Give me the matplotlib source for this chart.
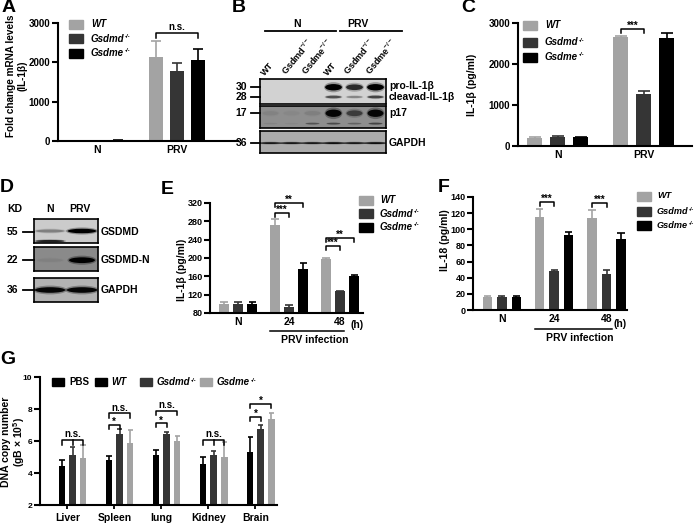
import matplotlib
matplotlib.use('Agg')
import matplotlib.pyplot as plt
from matplotlib.patches import Rectangle, Ellipse
from matplotlib.lines import Line2D
import numpy as np

plt.rcParams['font.family'] = ['Liberation Sans', 'DejaVu Sans']
plt.rcParams['font.weight'] = 'bold'
plt.rcParams['axes.labelweight'] = 'bold'
plt.rcParams['mathtext.fontset'] = 'custom'
plt.rcParams['mathtext.rm'] = 'Liberation Sans:bold'
plt.rcParams['mathtext.it'] = 'Liberation Sans:bold:italic'
plt.rcParams['mathtext.bf'] = 'Liberation Sans:bold'

# ---- data ----
geno_base = ['WT', 'Gsdmd', 'Gsdme']
geno_sup = ['', '-/-', '-/-']
groups_ac = ['N', 'PRV']
groups_ef = ['N', '24', '48']

# A: fold change mRNA IL-1b
a_wt = [5, 2140]
a_wt_err = [0, 400]
a_gsdmd = [5, 1790]
a_gsdmd_err = [0, 200]
a_gsdme = [15, 2070]
a_gsdme_err = [0, 280]

# C: IL-1b pg/ml
c_wt = [200, 2655]
c_wt_err = [20, 20]
c_gsdmd = [220, 1260]
c_gsdmd_err = [20, 85]
c_gsdme = [210, 2645]
c_gsdme_err = [20, 105]

# E: IL-1b pg/ml time course
e_wt = [99, 271, 198]
e_wt_err = [5, 15, 2]
e_gsdmd = [99, 94, 127]
e_gsdmd_err = [5, 4, 2]
e_gsdme = [99, 175, 161]
e_gsdme_err = [5, 13, 2]

# F: IL-18 pg/ml time course
f_wt = [15.6, 115, 114]
f_wt_err = [2, 10, 10]
f_gsdmd = [15.6, 48, 45]
f_gsdmd_err = [2, 2, 5]
f_gsdme = [15.6, 93, 88]
f_gsdme_err = [2, 4, 8]

# G: DNA copy number
organs = ['Liver', 'Spleen', 'lung', 'Kidney', 'Brain']
g_wt = [4.44, 4.80, 5.11, 4.55, 5.32]
g_wt_err = [0.38, 0.27, 0.31, 0.44, 0.92]
g_gsdmd = [5.11, 6.41, 6.43, 5.15, 6.74]
g_gsdmd_err = [0.50, 0.35, 0.12, 0.25, 0.27]
g_gsdme = [4.96, 5.90, 5.99, 4.99, 7.37]
g_gsdme_err = [0.76, 0.76, 0.33, 0.93, 0.41]

# blots: band intensity per lane
b_lanes = ['WT', 'Gsdmd$^{-/-}$', 'Gsdme$^{-/-}$', 'WT', 'Gsdmd$^{-/-}$', 'Gsdme$^{-/-}$']
b_pro = [0.0, 0.0, 0.0, 1.0, 0.75, 1.0]
b_cleaved = [0.0, 0.0, 0.0, 0.55, 0.3, 0.6]
b_p17 = [0.06, 0.03, 0.08, 0.95, 0.5, 0.95]
b_p17_low = [0.05, 0.03, 0.35, 0.4, 0.25, 0.45]
b_gapdh = [0.85, 0.85, 0.85, 0.9, 0.85, 0.9]
d_gsdmd = [0.3, 1.0]
d_gsdmd_low = [0.8, 0.0]
d_gsdmdn = [0.05, 1.0]
d_gapdh = [0.95, 0.95]

LIGHT = '#a3a3a3'
DARK = '#353535'
BLACK = '#000000'

W, H = 696, 525
fig = plt.figure(figsize=(W / 100, H / 100), dpi=100)
renderer = fig.canvas.get_renderer()


def px_axes(l, t, r, b):
    return fig.add_axes([l / W, 1 - b / H, (r - l) / W, (b - t) / H])


def ftext(x, y, s, **kw):
    kw.setdefault('ha', 'center')
    kw.setdefault('va', 'center')
    kw.setdefault('fontweight', 'bold')
    return fig.text(x / W, 1 - y / H, s, **kw)


def fline(x1, x2, y1, y2, lw=1.3):
    fig.add_artist(Line2D([x1 / W, x2 / W], [1 - y1 / H, 1 - y2 / H],
                          color='black', lw=lw, transform=fig.transFigure))


def sup_text(x, y, base, sup, fs, style):
    t = ftext(x, y, base, ha='left', fontsize=fs, style=style)
    if sup:
        bb = t.get_window_extent(renderer)
        fig.text((bb.x1 + 0.5) / W, (bb.y1 - 0.5) / H, sup, ha='left',
                 va='top', fontsize=fs * 0.6, style=style, fontweight='bold')


def style_axes(ax, ysize=7, xticks=False):
    for s in ['top', 'right']:
        ax.spines[s].set_visible(False)
    for s in ['left', 'bottom']:
        ax.spines[s].set_linewidth(1.5)
    ax.tick_params(axis='y', length=4, width=1.5, labelsize=ysize, pad=1.5)
    ax.tick_params(axis='x', length=3 if xticks else 0, width=1.3,
                   labelsize=7.5, pad=3)
    for lab in ax.get_yticklabels() + ax.get_xticklabels():
        lab.set_fontweight('bold')


def bars(ax, x, vals, errs, color, width, capw):
    x = np.asarray(x, dtype=float)
    ax.bar(x, vals, width=width, color=color, zorder=2)
    top = np.asarray(vals) + np.asarray(errs)
    ax.vlines(x, vals, top, color=color, lw=1.2, zorder=2)
    ax.hlines(top, x - capw, x + capw, color=color, lw=1.2, zorder=2)


def bracket(ax, x1, x2, y, h, label, mids=(), fs=7):
    ax.plot([x1, x1, x2, x2], [y - h, y, y, y - h], color='black', lw=1.1,
            clip_on=False)
    for m in mids:
        ax.plot([m, m], [y, y - h], color='black', lw=1.1, clip_on=False)
    up = 0 if label.startswith('*') else 2.5
    ax.annotate(label, ((x1 + x2) / 2, y), xytext=(0, up),
                textcoords='offset pixels', ha='center', va='baseline',
                fontsize=fs, fontweight='bold', annotation_clip=False)


def legend_px(x, ys, bases, sups, colors, pw=14, ph=9, gap=8, italic=None,
              fs=7):
    for i, (y, b, s, col) in enumerate(zip(ys, bases, sups, colors)):
        fig.add_artist(Rectangle((x / W, 1 - (y + ph / 2) / H), pw / W, ph / H,
                                 color=col, transform=fig.transFigure))
        it = True if italic is None else italic[i]
        sup_text(x + pw + gap, y, b, s, fs, 'italic' if it else 'normal')


# ---------------- A ----------------
ax = px_axes(58, 23, 238, 141)
xa = np.arange(len(groups_ac))
off, bw = 0.2625, 0.175
bars(ax, xa - off, a_wt, a_wt_err, LIGHT, bw, 0.06)
bars(ax, xa, a_gsdmd, a_gsdmd_err, DARK, bw, 0.06)
bars(ax, xa + off, a_gsdme, a_gsdme_err, BLACK, bw, 0.06)
ax.set_xlim(-0.49, 1.76)
ax.set_ylim(0, 3000)
ax.set_yticks([0, 1000, 2000, 3000])
ax.set_xticks(xa)
ax.set_xticklabels(groups_ac)
style_axes(ax)
bracket(ax, 1 - off, 1 + off, 2756, 130, 'n.s.')
legend_px(69, [24, 38.5, 53], geno_base, geno_sup, [LIGHT, DARK, BLACK])
ftext(17, 76, 'Fold change mRNA levels\n(IL-1β)', rotation=90, fontsize=7.2,
      linespacing=1.25)
ftext(9, 8, 'A', fontsize=14)

# ---------------- C ----------------
ax = px_axes(518, 23, 692, 146)
off, bw = 0.267, 0.174
bars(ax, xa - off, c_wt, c_wt_err, LIGHT, bw, 0.07)
bars(ax, xa, c_gsdmd, c_gsdmd_err, DARK, bw, 0.07)
bars(ax, xa + off, c_gsdme, c_gsdme_err, BLACK, bw, 0.07)
ax.set_xlim(-0.46, 1.56)
ax.set_ylim(0, 3000)
ax.set_yticks([0, 1000, 2000, 3000])
ax.set_xticks(xa)
ax.set_xticklabels(groups_ac)
style_axes(ax)
bracket(ax, 1 - off, 1, 2853, 100, '***')
legend_px(523, [25, 42, 57], geno_base, geno_sup, [LIGHT, DARK, BLACK])
ftext(472, 85, 'IL-1β (pg/ml)', rotation=90, fontsize=7.5)
ftext(468, 8, 'C', fontsize=14)

# ---------------- E ----------------
ax = px_axes(210, 203, 363, 313)
xe = np.arange(len(groups_ef))
off, bw = 0.275, 0.186
bars(ax, xe - off, e_wt, e_wt_err, LIGHT, bw, 0.07)
bars(ax, xe, e_gsdmd, e_gsdmd_err, DARK, bw, 0.07)
bars(ax, xe + off, e_gsdme, e_gsdme_err, BLACK, bw, 0.07)
ax.set_xlim(-0.55, 2.45)
ax.set_ylim(80, 320)
ax.set_yticks(np.arange(80, 321, 40))
ax.set_xticks(xe)
ax.set_xticklabels(groups_ef)
style_axes(ax, ysize=6.5)
bracket(ax, 1 - off, 1, 299, 9, '***')
bracket(ax, 1 - off, 1 + off, 320, 9, '**')
bracket(ax, 2 - off, 2, 227, 9, '***')
bracket(ax, 2 - off, 2 + off, 244, 9, '**')
legend_px(359, [200, 213.5, 227], geno_base, geno_sup, [LIGHT, DARK, BLACK],
          gap=7)
ftext(182, 270, 'IL-1β (pg/ml)', rotation=90, fontsize=7.5)
ftext(357, 324.5, '(h)', fontsize=7.5)
fline(270, 344, 331, 331, lw=1.1)
ftext(315, 340, 'PRV infection', fontsize=7.5)
ftext(167, 190, 'E', fontsize=14)

# ---------------- F ----------------
ax = px_axes(473, 197, 627, 310)
off, bw = 0.277, 0.18
bars(ax, xe - off, f_wt, f_wt_err, LIGHT, bw, 0.07)
bars(ax, xe, f_gsdmd, f_gsdmd_err, DARK, bw, 0.07)
bars(ax, xe + off, f_gsdme, f_gsdme_err, BLACK, bw, 0.07)
ax.set_xlim(-0.55, 2.39)
ax.set_ylim(0, 140)
ax.set_yticks(np.arange(0, 141, 20))
ax.set_xticks(xe)
ax.set_xticklabels(groups_ef)
style_axes(ax, ysize=6.5)
bracket(ax, 1 - off, 1, 134, 5, '***')
bracket(ax, 2 - off, 2, 133, 5, '***')
legend_px(637, [196, 211.5, 225], geno_base, geno_sup, [LIGHT, DARK, BLACK],
          gap=6, fs=6.6)
ftext(445, 240, 'IL-18 (pg/ml)', rotation=90, fontsize=7.5)
ftext(620, 324, '(h)', fontsize=7.5)
fline(535, 612, 329, 329, lw=1.1)
ftext(580, 338, 'PRV infection', fontsize=7.5)
ftext(444, 188, 'F', fontsize=14)

# ---------------- G ----------------
ax = px_axes(40, 377, 277, 505)
xg = np.arange(len(organs))
d, bw = 0.224, 0.143
bars(ax, xg - 0.5 * d, g_wt, g_wt_err, BLACK, bw, 0.055)
bars(ax, xg + 0.5 * d, g_gsdmd, g_gsdmd_err, DARK, bw, 0.055)
bars(ax, xg + 1.5 * d, g_gsdme, g_gsdme_err, LIGHT, bw, 0.055)
ax.set_xlim(-0.58, 4.46)
ax.set_ylim(2, 10)
ax.set_yticks([2, 4, 6, 8, 10])
ax.set_xticks(xg)
ax.set_xticklabels(organs)
style_axes(ax, ysize=6, xticks=True)
for i in [0, 3]:
    bracket(ax, i - 0.5 * d, i + 1.5 * d, 6.09, 0.35, 'n.s.',
            mids=[i + 0.5 * d])
for i, (ys, yn) in zip([1, 2], [(7.0, 7.74), (7.1, 7.9)]):
    bracket(ax, i - 0.5 * d, i + 0.5 * d, ys, 0.25, '*')
    bracket(ax, i - 0.5 * d, i + 1.5 * d, yn, 0.3, 'n.s.')
bracket(ax, 4 - 0.5 * d, 4 + 0.5 * d, 7.53, 0.25, '*')
bracket(ax, 4 - 0.5 * d, 4 + 1.5 * d, 8.3, 0.25, '*')
legend_px(52, [382], ['PBS'], [''], [BLACK], pw=12, ph=8, gap=5,
          italic=[False])
legend_px(95, [382], ['WT'], [''], [BLACK], pw=12, ph=8, gap=4)
legend_px(140, [382], [geno_base[1]], [geno_sup[1]], [DARK], pw=12, ph=8,
          gap=5)
legend_px(200, [382], [geno_base[2]], [geno_sup[2]], [LIGHT], pw=12, ph=8,
          gap=5)
ftext(14, 442, 'DNA copy number\n(gB × 10$^5$)', rotation=90, fontsize=7.5,
      linespacing=1.1)
ftext(8, 359, 'G', fontsize=14)


# ---------------- blots ----------------
def blot(l, t, r, b, bg, rows, nl, bw=0.8):
    ax = px_axes(l, t, r, b)
    ax.set_facecolor(bg)
    ax.set_xlim(0, nl)
    ax.set_ylim(1, 0)
    ax.set_xticks([])
    ax.set_yticks([])
    for s in ax.spines.values():
        s.set_linewidth(1.2)
    for y, hgt, inten, wfac in rows:
        for i, v in enumerate(inten):
            hv = hgt * (0.55 + 0.45 * v)
            ax.add_patch(Ellipse((i + 0.5, y), bw * wfac * 1.12, hv * 1.35,
                                 color='black', alpha=0.3 * v, lw=0))
            ax.add_patch(Ellipse((i + 0.5, y), bw * wfac, hv * 0.85,
                                 color='black', alpha=v, lw=0))
    return ax


# B
blot(260, 79, 386, 104, '#d2d2d2',
     [(0.33, 0.3, b_pro, 1.0), (0.72, 0.15, b_cleaved, 0.95)], 6)
blot(260, 106, 386, 128, '#8e8e8e',
     [(0.33, 0.4, b_p17, 0.95), (0.8, 0.12, b_p17_low, 0.8)], 6)
blot(260, 131, 386, 153, '#ababab', [(0.55, 0.1, b_gapdh, 1.3)], 6)
lane_x = 260 + (np.arange(6) + 0.5) * 21
for x, lab in zip(lane_x, b_lanes):
    ftext(x - 4, 77, lab, ha='left', va='bottom', rotation=50,
          rotation_mode='anchor', fontsize=6.5)
ftext(297, 24, 'N', fontsize=7.5)
fline(265, 336, 31, 31)
ftext(358, 24, 'PRV', fontsize=7.5)
fline(340, 402, 31, 31)
for y, lab in [(87, '30'), (97, '28'), (113, '17'), (143, '36')]:
    ftext(247, y, lab, ha='right', fontsize=7.5)
    fline(251, 260, y, y)
for y, lab in [(86, 'pro-IL-1β'), (97, 'cleavad-IL-1β'), (113, 'p17'),
               (143, 'GAPDH')]:
    ftext(389, y, lab, ha='left', fontsize=7.5)
ftext(239, 8, 'B', fontsize=14)

# D
blot(34, 219, 98, 243, '#cbcbcb',
     [(0.5, 0.22, d_gsdmd, 1.0), (0.92, 0.12, d_gsdmd_low, 1.0)], 2, bw=0.9)
blot(34, 247, 98, 271, '#8a8a8a', [(0.55, 0.28, d_gsdmdn, 0.9)], 2, bw=0.9)
blot(34, 278, 98, 302, '#b3b3b3', [(0.5, 0.28, d_gapdh, 1.0)], 2, bw=0.95)
ftext(15, 209, 'KD', fontsize=7.5)
ftext(50, 209, 'N', fontsize=7.5)
ftext(80, 209, 'PRV', fontsize=7.5)
for y, lab in [(232, '55'), (260, '22'), (290, '36')]:
    ftext(18, y, lab, ha='right', fontsize=7.5)
    fline(23, 34, y, y)
for y, lab in [(232, 'GSDMD'), (260, 'GSDMD-N'), (290, 'GAPDH')]:
    ftext(101, y, lab, ha='left', fontsize=7.5)
ftext(7, 188, 'D', fontsize=14)

fig.savefig('out.png', dpi=100, facecolor='white')
